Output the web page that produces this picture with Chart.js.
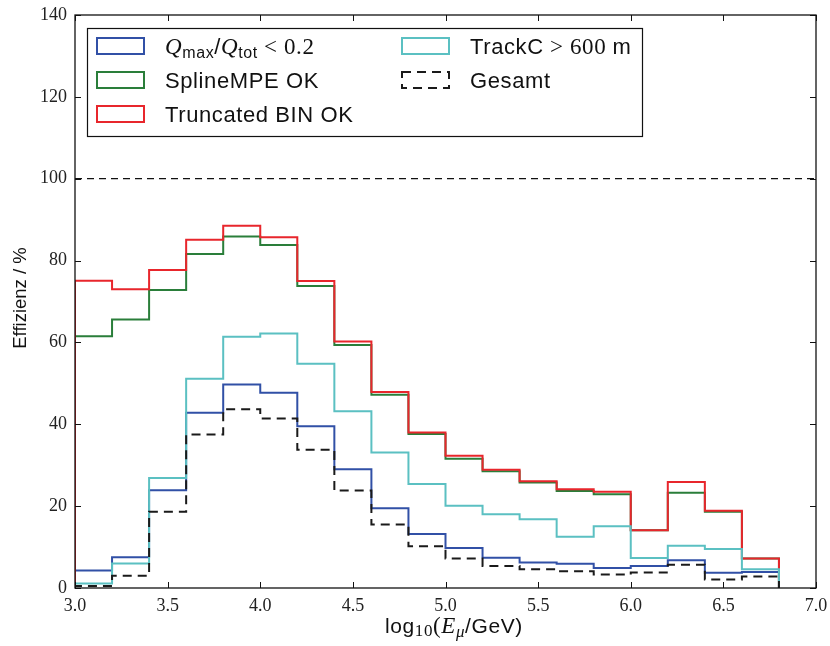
<!DOCTYPE html>
<html><head><meta charset="utf-8">
<script src="https://cdn.jsdelivr.net/npm/chart.js@4/dist/chart.umd.min.js"></script>
<style>html,body{margin:0;padding:0;background:#fff}#wrap{width:830px;height:646px;position:relative}</style>
</head><body><div id="wrap"><canvas id="c" width="830" height="646"></canvas></div>
<script>
// ---- data ----
const binEdges = [3.0,3.2,3.4,3.6,3.8,4.0,4.2,4.4,4.6,4.8,5.0,5.2,5.4,5.6,5.8,6.0,6.2,6.4,6.6,6.8];
const qRatio       = [4.3,7.5,23.9,42.8,49.7,47.7,39.5,29.0,19.5,13.2,9.8,7.4,6.2,5.9,4.9,5.4,6.8,3.7,3.9];
const splineMPE    = [61.5,65.6,72.8,81.6,85.9,83.8,73.8,59.4,47.2,37.6,31.6,28.5,25.8,23.7,22.9,14.1,23.3,18.6,7.2];
const truncatedBIN = [75.1,73.0,77.7,85.1,88.5,85.7,75.0,60.2,47.9,38.0,32.3,28.9,26.1,24.1,23.5,14.1,25.9,18.9,7.2];
const trackC       = [1.1,6.0,26.9,51.1,61.4,62.2,54.8,43.2,33.1,25.4,20.1,18.0,16.8,12.5,15.1,7.3,10.3,9.5,4.6];
const gesamt       = [0.5,3.0,18.6,37.5,43.7,41.4,33.8,23.8,15.5,10.2,7.2,5.4,4.6,4.1,3.3,3.8,5.7,2.1,2.8];
const referenceLevel = 100;
const xTicks = [3.0,3.5,4.0,4.5,5.0,5.5,6.0,6.5,7.0];
const yTicks = [0,20,40,60,80,100,120,140];
const seriesNames = ['Qratio','SplineMPE OK','Truncated BIN OK','TrackC','Gesamt'];

const SANS = '"Liberation Sans", Arial, sans-serif';
const SERIF = '"Liberation Serif", "Times New Roman", serif';
const COLORS = {blue:'#3150a6', green:'#2a7e3a', red:'#e8262c', cyan:'#5bc0c2', black:'#1a1a1a'};

function histPoints(vals){
  const pts = [{x:binEdges[0], y:0}];
  vals.forEach((v,i)=>pts.push({x:binEdges[i], y:v}));
  pts.push({x:binEdges[binEdges.length-1], y:0});
  return pts;
}
function histDs(label, vals, color, order, dash){
  return {label, data:histPoints(vals), borderColor:color, backgroundColor:color, borderWidth:2,
    stepped:'before', pointRadius:0, fill:false, order, borderDash:dash||[], borderCapStyle:'butt', borderJoinStyle:'miter'};
}

const datasets = [
  histDs(seriesNames[0], qRatio, COLORS.blue, 4),
  histDs(seriesNames[1], splineMPE, COLORS.green, 3),
  histDs(seriesNames[2], truncatedBIN, COLORS.red, 2),
  histDs(seriesNames[3], trackC, COLORS.cyan, 1),
  histDs(seriesNames[4], gesamt, COLORS.black, 0, [9,6]),
  {label:'ref', data:[{x:xTicks[0],y:referenceLevel},{x:xTicks[xTicks.length-1],y:referenceLevel}],
   borderColor:'#111', borderWidth:1.2, borderDash:[7,5], pointRadius:0, order:5, fill:false}
];

function richText(ctx, x, y, segs, align, ls){
  let total = 0;
  ctx.letterSpacing = ls || '0px';
  segs.forEach(s=>{ctx.font=s.f; s.w=ctx.measureText(s.t).width; total+=s.w;});
  let cx = align==='center' ? x-total/2 : x;
  ctx.textBaseline='alphabetic'; ctx.textAlign='left';
  segs.forEach(s=>{ctx.font=s.f; ctx.fillText(s.t, cx, y+(s.dy||0)); cx+=s.w;});
  ctx.letterSpacing = '0px';
}

const decor = {
  id:'decor',
  afterDraw(chart){
    const ctx = chart.ctx, a = chart.chartArea;
    const xs = chart.scales.x, ys = chart.scales.y;
    ctx.save();
    ctx.strokeStyle='#111'; ctx.lineWidth=1.3; ctx.setLineDash([]);
    ctx.strokeRect(a.left, a.top, a.right-a.left, a.bottom-a.top);
    ctx.lineWidth=1;
    const L=6;
    ctx.beginPath();
    xTicks.forEach(v=>{const px=Math.round(xs.getPixelForValue(v))+0.5;
      ctx.moveTo(px,a.bottom); ctx.lineTo(px,a.bottom-L);
      ctx.moveTo(px,a.top); ctx.lineTo(px,a.top+L);});
    yTicks.forEach(v=>{const py=Math.round(ys.getPixelForValue(v))+0.5;
      ctx.moveTo(a.left,py); ctx.lineTo(a.left+L,py);
      ctx.moveTo(a.right,py); ctx.lineTo(a.right-L,py);});
    ctx.stroke();

    // legend
    const bx=87, by=28, bw=555, bh=108;
    ctx.fillStyle='#fff'; ctx.fillRect(bx,by,bw,bh);
    ctx.strokeStyle='#111'; ctx.lineWidth=1.2; ctx.strokeRect(bx+0.5,by+0.5,bw,bh);
    const rows=[46,80,114];
    const items=[
      {c:COLORS.blue, x:97, y:rows[0], segs:[
        {t:'Q', f:'italic 23px '+SERIF},{t:'max', f:'16px '+SANS, dy:4},{t:'/', f:'22px '+SANS},
        {t:'Q', f:'italic 23px '+SERIF},{t:'tot', f:'16px '+SANS, dy:4},{t:' < 0.2', f:'23px '+SERIF}]},
      {c:COLORS.green, x:97, y:rows[1], segs:[{t:'SplineMPE OK', f:'22px '+SANS}]},
      {c:COLORS.red, x:97, y:rows[2], segs:[{t:'Truncated BIN OK', f:'22px '+SANS}]},
      {c:COLORS.cyan, x:402, y:rows[0], segs:[{t:'TrackC', f:'22px '+SANS},{t:' > 600 ', f:'23px '+SERIF},{t:'m', f:'22px '+SANS}]},
      {c:COLORS.black, x:402, y:rows[1], dash:true, segs:[{t:'Gesamt', f:'22px '+SANS}]}
    ];
    items.forEach(it=>{
      ctx.strokeStyle=it.c; ctx.lineWidth=2;
      ctx.setLineDash(it.dash?[9,6]:[]);
      ctx.strokeRect(it.x, it.y-8, 47, 16);
      ctx.setLineDash([]);
      ctx.fillStyle='#111';
      richText(ctx, it.x+68, it.y+8, it.segs, 'left', '0.6px');
    });

    // axis titles
    ctx.fillStyle='#111';
    richText(ctx, 454, 633, [
      {t:'log', f:'21px '+SANS},{t:'10', f:'17px '+SERIF, dy:3},{t:'(', f:'23px '+SERIF},
      {t:'E', f:'italic 23px '+SERIF},{t:'μ', f:'italic 17px '+SERIF, dy:4},{t:'/GeV)', f:'21px '+SANS}], 'center', '0.6px');
    ctx.save();
    ctx.translate(26, 298); ctx.rotate(-Math.PI/2);
    ctx.font='18.5px '+SANS; ctx.textAlign='center'; ctx.textBaseline='alphabetic';
    ctx.fillText('Effizienz / %', 0, 0);
    ctx.restore();
    ctx.restore();
  }
};

new Chart(document.getElementById('c'), {
  type:'line',
  data:{datasets},
  options:{
    responsive:false, animation:false, devicePixelRatio:1,
    layout:{padding:{top:15, right:14, left:0, bottom:0}},
    plugins:{legend:{display:false}, tooltip:{enabled:false}},
    scales:{
      x:{type:'linear', min:xTicks[0], max:xTicks[xTicks.length-1],
        afterFit(s){s.height=58; s.paddingLeft=0; s.paddingRight=0;},
        afterBuildTicks(s){s.ticks=xTicks.map(v=>({value:v}));},
        grid:{display:false, drawTicks:false}, border:{display:false},
        ticks:{padding:7, color:'#222', font:{family:SERIF, size:18}, callback:v=>Number(v).toFixed(1), maxRotation:0}},
      y:{type:'linear', min:yTicks[0], max:yTicks[yTicks.length-1],
        afterFit(s){s.width=75; s.paddingTop=0; s.paddingBottom=0;},
        afterBuildTicks(s){s.ticks=yTicks.map(v=>({value:v}));},
        grid:{display:false, drawTicks:false}, border:{display:false},
        ticks:{padding:8, color:'#222', font:{family:SERIF, size:18}, callback:v=>String(v)}}
    }
  },
  plugins:[decor]
});
</script></body></html>
